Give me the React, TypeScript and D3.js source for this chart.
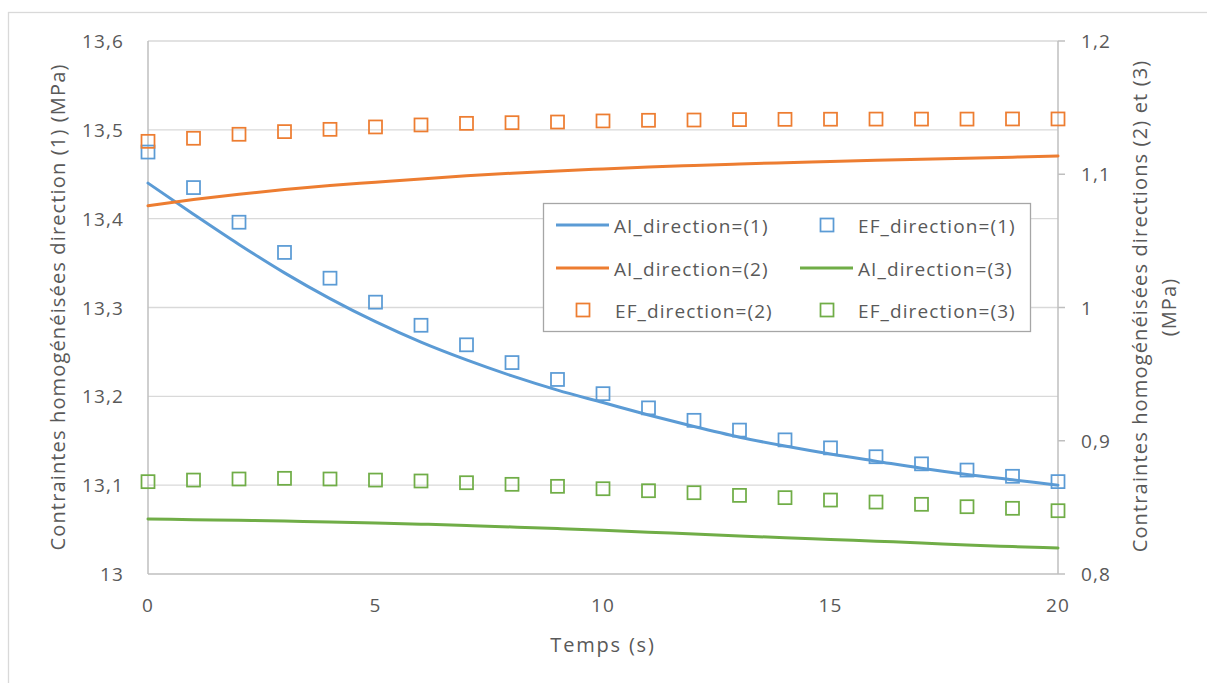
import React from "react";
import * as d3 from "d3";

const time = [0, 1, 2, 3, 4, 5, 6, 7, 8, 9, 10, 11, 12, 13, 14, 15, 16, 17, 18, 19, 20];

// Left axis (direction 1)
const aiDir1 = [13.44, 13.405, 13.371, 13.339, 13.31, 13.284, 13.261, 13.241, 13.223, 13.207, 13.193, 13.179, 13.166, 13.154, 13.144, 13.135, 13.127, 13.119, 13.112, 13.106, 13.1];
const efDir1 = [13.475, 13.435, 13.396, 13.362, 13.333, 13.306, 13.28, 13.258, 13.238, 13.219, 13.203, 13.187, 13.173, 13.162, 13.151, 13.142, 13.132, 13.124, 13.117, 13.11, 13.104];

// Right axis (directions 2 and 3)
const aiDir2 = [1.0764, 1.081, 1.085, 1.0885, 1.0915, 1.094, 1.0965, 1.0988, 1.1008, 1.1025, 1.104, 1.1054, 1.1066, 1.1077, 1.1087, 1.1096, 1.1105, 1.1113, 1.112, 1.1128, 1.1137];
const efDir2 = [1.1247, 1.127, 1.13, 1.132, 1.1337, 1.1355, 1.137, 1.1382, 1.1387, 1.1392, 1.14, 1.1405, 1.1407, 1.141, 1.1412, 1.1413, 1.1414, 1.1414, 1.1414, 1.1415, 1.1415];
const aiDir3 = [0.8413, 0.8408, 0.8403, 0.8397, 0.8391, 0.8383, 0.8374, 0.8364, 0.8353, 0.8341, 0.8328, 0.8314, 0.83, 0.8286, 0.8272, 0.8259, 0.8246, 0.8233, 0.8218, 0.8206, 0.8195];
const efDir3 = [0.8693, 0.8705, 0.8713, 0.8718, 0.8713, 0.8705, 0.8698, 0.8685, 0.8673, 0.8658, 0.864, 0.8625, 0.861, 0.859, 0.8573, 0.8555, 0.854, 0.8523, 0.8505, 0.8493, 0.8475];

const xTicks = [0, 5, 10, 15, 20];
const leftTicks = [13, 13.1, 13.2, 13.3, 13.4, 13.5, 13.6];
const rightTicks = [0.8, 0.9, 1.0, 1.1, 1.2];

const BLUE = "#5B9BD5";
const ORANGE = "#ED7D31";
const GREEN = "#70AD47";
const TXT = "#595959";
const FONT = "'Open Sans', sans-serif";

const fmt = (v: number) => {
  const s = d3.format("~g")(+v.toFixed(2));
  return s.replace(".", ",");
};

export default function App() {
  const L = 148, R = 1058, T = 41, B = 574;
  const x = d3.scaleLinear().domain([0, 20]).range([L, R]);
  const yL = d3.scaleLinear().domain([13, 13.6]).range([B, T]);
  const yR = d3.scaleLinear().domain([0.8, 1.2]).range([B, T]);

  const lineL = d3.line<number>().x((_, i) => x(time[i])).y((d) => yL(d)).curve(d3.curveMonotoneX);
  const lineR = d3.line<number>().x((_, i) => x(time[i])).y((d) => yR(d)).curve(d3.curveMonotoneX);

  const M = 13;
  const markers = (vals: number[], y: (v: number) => number, color: string, key: string) =>
    vals.map((v, i) => (
      <rect key={key + i} x={x(time[i]) - M / 2} y={y(v) - M / 2} width={M} height={M}
        fill="none" stroke={color} strokeWidth={1.75} />
    ));

  const legendSquare = (cx: number, cy: number, color: string) => (
    <rect x={cx - M / 2} y={cy - M / 2} width={M} height={M} fill="none" stroke={color} strokeWidth={1.75} />
  );

  const textStyle = { fontFamily: FONT, fontSize: 19, fill: TXT, letterSpacing: 1.1 };
  const titleStyle = { fontFamily: FONT, fontSize: 20, fill: TXT, letterSpacing: 1.15 };

  const rows = [225, 268, 310];

  return (
    <div style={{ position: "absolute", left: 0, top: 0 }}>
      <svg width={1207} height={683} style={{ display: "block", background: "#fff" }}>
        <rect x={8.5} y={12.5} width={1300} height={800} fill="#fff" stroke="#D9D9D9" strokeWidth={1.3} />

        {/* gridlines */}
        {leftTicks.slice(1).map((t) => (
          <line key={"g" + t} x1={L} x2={R} y1={yL(t)} y2={yL(t)} stroke="#D9D9D9" strokeWidth={1.3} />
        ))}
        {/* axes */}
        <line x1={L} x2={L} y1={T} y2={B} stroke="#BFBFBF" strokeWidth={1.5} />
        <line x1={R} x2={R} y1={T} y2={B} stroke="#BFBFBF" strokeWidth={1.5} />
        <line x1={L} x2={R} y1={B} y2={B} stroke="#BFBFBF" strokeWidth={1.5} />
        {rightTicks.map((t) => (
          <line key={"rt" + t} x1={R} x2={R + 7} y1={yR(t)} y2={yR(t)} stroke="#BFBFBF" strokeWidth={1.5} />
        ))}

        {/* tick labels */}
        {leftTicks.map((t) => (
          <text key={"lt" + t} x={124} y={yL(t) + 7} textAnchor="end" style={textStyle}>{fmt(t)}</text>
        ))}
        {rightTicks.map((t) => (
          <text key={"rl" + t} x={1081} y={yR(t) + 7} textAnchor="start" style={textStyle}>{fmt(t)}</text>
        ))}
        {xTicks.map((t) => (
          <text key={"xt" + t} x={x(t)} y={612} textAnchor="middle" style={textStyle}>{fmt(t)}</text>
        ))}

        {/* axis titles */}
        <text x={603} y={652} textAnchor="middle" style={{ ...titleStyle, letterSpacing: 1.8 }}>Temps (s)</text>
        <text transform={`translate(65,307) rotate(-90)`} textAnchor="middle" style={titleStyle}>
          Contraintes homogénéisées direction (1) (MPa)
        </text>
        <text transform={`translate(1147,306) rotate(-90)`} textAnchor="middle" style={titleStyle}>
          Contraintes homogénéisées directions (2) et (3)
        </text>
        <text transform={`translate(1176,307) rotate(-90)`} textAnchor="middle" style={titleStyle}>
          (MPa)
        </text>

        {/* series */}
        <path d={lineL(aiDir1) || ""} fill="none" stroke={BLUE} strokeWidth={3} strokeLinecap="round" />
        {markers(efDir1, (v) => yL(v), BLUE, "e1")}
        <path d={lineR(aiDir2) || ""} fill="none" stroke={ORANGE} strokeWidth={3} strokeLinecap="round" />
        <path d={lineR(aiDir3) || ""} fill="none" stroke={GREEN} strokeWidth={3} strokeLinecap="round" />
        {markers(efDir2, (v) => yR(v), ORANGE, "e2")}
        {markers(efDir3, (v) => yR(v), GREEN, "e3")}

        {/* legend */}
        <rect x={543.5} y={203.5} width={487} height={128} fill="#fff" stroke="#A6A6A6" strokeWidth={1.3} />
        <line x1={556} x2={609} y1={rows[0]} y2={rows[0]} stroke={BLUE} strokeWidth={3} />
        <text x={614} y={rows[0] + 8} style={textStyle}>AI_direction=(1)</text>
        {legendSquare(827, rows[0], BLUE)}
        <text x={858} y={rows[0] + 8} style={textStyle}>EF_direction=(1)</text>

        <line x1={556} x2={609} y1={rows[1]} y2={rows[1]} stroke={ORANGE} strokeWidth={3} />
        <text x={614} y={rows[1] + 8} style={textStyle}>AI_direction=(2)</text>
        <line x1={800} x2={853} y1={rows[1]} y2={rows[1]} stroke={GREEN} strokeWidth={3} />
        <text x={858} y={rows[1] + 8} style={textStyle}>AI_direction=(3)</text>

        {legendSquare(583, rows[2], ORANGE)}
        <text x={615} y={rows[2] + 8} style={textStyle}>EF_direction=(2)</text>
        {legendSquare(827, rows[2], GREEN)}
        <text x={858} y={rows[2] + 8} style={textStyle}>EF_direction=(3)</text>
      </svg>
    </div>
  );
}
